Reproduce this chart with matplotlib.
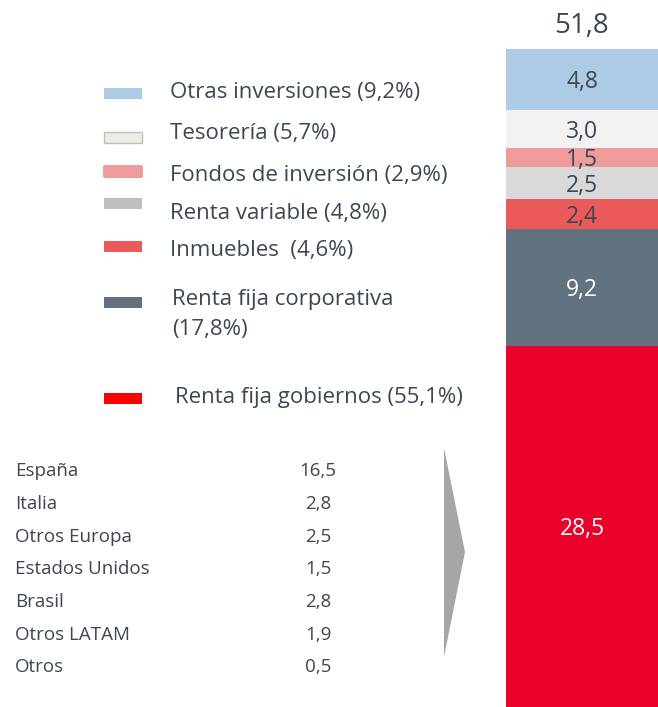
import matplotlib
matplotlib.use("Agg")
import matplotlib.pyplot as plt
from matplotlib.patches import Rectangle, FancyBboxPatch, Polygon

plt.rcParams['font.family'] = ['Open Sans', 'DejaVu Sans']

# ---- data ----
segment_values = [28.5, 9.2, 2.4, 2.5, 1.5, 3.0, 4.8]
segment_labels = ["28,5", "9,2", "2,4", "2,5", "1,5", "3,0", "4,8"]
segment_colors = ["#EA0029", "#62727F", "#EB5A5A", "#D9D9D9", "#EE9B9C", "#F2F2F2", "#AECBE5"]
segment_text_colors = ["white", "white", "#3B4752", "#3B4752", "#3B4752", "#3B4752", "#3B4752"]
total_label = "51,8"

legend_labels = ["Otras inversiones (9,2%)", "Tesorería (5,7%)", "Fondos de inversión (2,9%)",
                 "Renta variable (4,8%)", "Inmuebles  (4,6%)",
                 "Renta fija corporativa\n(17,8%)", "Renta fija gobiernos (55,1%)"]
legend_colors = ["#AECBE5", "#EEEDE3", "#EE9B9C", "#BFBFBF", "#EB5A5A", "#62727F", "#FF0000"]

countries = ["España", "Italia", "Otros Europa", "Estados Unidos", "Brasil", "Otros LATAM", "Otros"]
country_values = ["16,5", "2,8", "2,5", "1,5", "2,8", "1,9", "0,5"]

TXT = "#3B4752"
W, H = 658, 707
fig = plt.figure(figsize=(W / 100, H / 100), dpi=100)

# ---- stacked bar ----
bar_top_px = 49
axb = fig.add_axes([506 / W, 0, (W - 506) / W, (H - bar_top_px) / H])
bottom = 0
for v, lab, c, tc in zip(segment_values, segment_labels, segment_colors, segment_text_colors):
    axb.bar(0, v, bottom=bottom, width=1, color=c, edgecolor='none')
    axb.text(0, bottom + v / 2, lab, ha='center', va='center_baseline', color=tc, fontsize=16.5)
    bottom += v
axb.set_xlim(-0.5, 0.5)
axb.set_ylim(0, sum(segment_values))
axb.axis('off')

# ---- overlay for text / legend ----
ax = fig.add_axes([0, 0, 1, 1])
ax.set_xlim(0, W)
ax.set_ylim(H, 0)
ax.axis('off')

ax.text(582, 33, total_label, ha='center', va='baseline', color=TXT, fontsize=20)

patch_y = [93.5, 137.5, 171.5, 203.5, 246, 302, 398.5]
text_pos = [(170, 90), (170, 131), (170, 173.5), (170, 210.5), (170, 248), (172, 296.5), (175, 395)]
line_gap = 30
for i, (lab, col) in enumerate(zip(legend_labels, legend_colors)):
    y = patch_y[i]
    if i == 1:
        ax.add_patch(Rectangle((104, y - 5.5), 38, 11, facecolor=col, edgecolor='#BFBFBF', lw=1))
    elif i == 2:
        ax.add_patch(FancyBboxPatch((103, y - 6.5), 40, 13, boxstyle="round,pad=0,rounding_size=2",
                                    facecolor=col, edgecolor='none'))
    else:
        ax.add_patch(Rectangle((104, y - 5.5), 38, 11, facecolor=col, edgecolor='none'))
    tx, ty = text_pos[i]
    for k, line in enumerate(lab.split("\n")):
        ax.text(tx, ty + k * line_gap, line, ha='left', va='center_baseline', color=TXT, fontsize=16)

row_y = [468.5, 502, 535, 567.5, 600, 633, 665.5]
for name, val, y in zip(countries, country_values, row_y):
    ax.text(15, y, name, ha='left', va='center_baseline', color=TXT, fontsize=13.5)
    ax.text(318, y, val, ha='center', va='center_baseline', color=TXT, fontsize=13.5)

ax.add_patch(Polygon([(444, 448), (465, 552), (444, 657)], closed=True,
                     facecolor='#A6A6A6', edgecolor='none'))

fig.savefig("out.png", dpi=100)
